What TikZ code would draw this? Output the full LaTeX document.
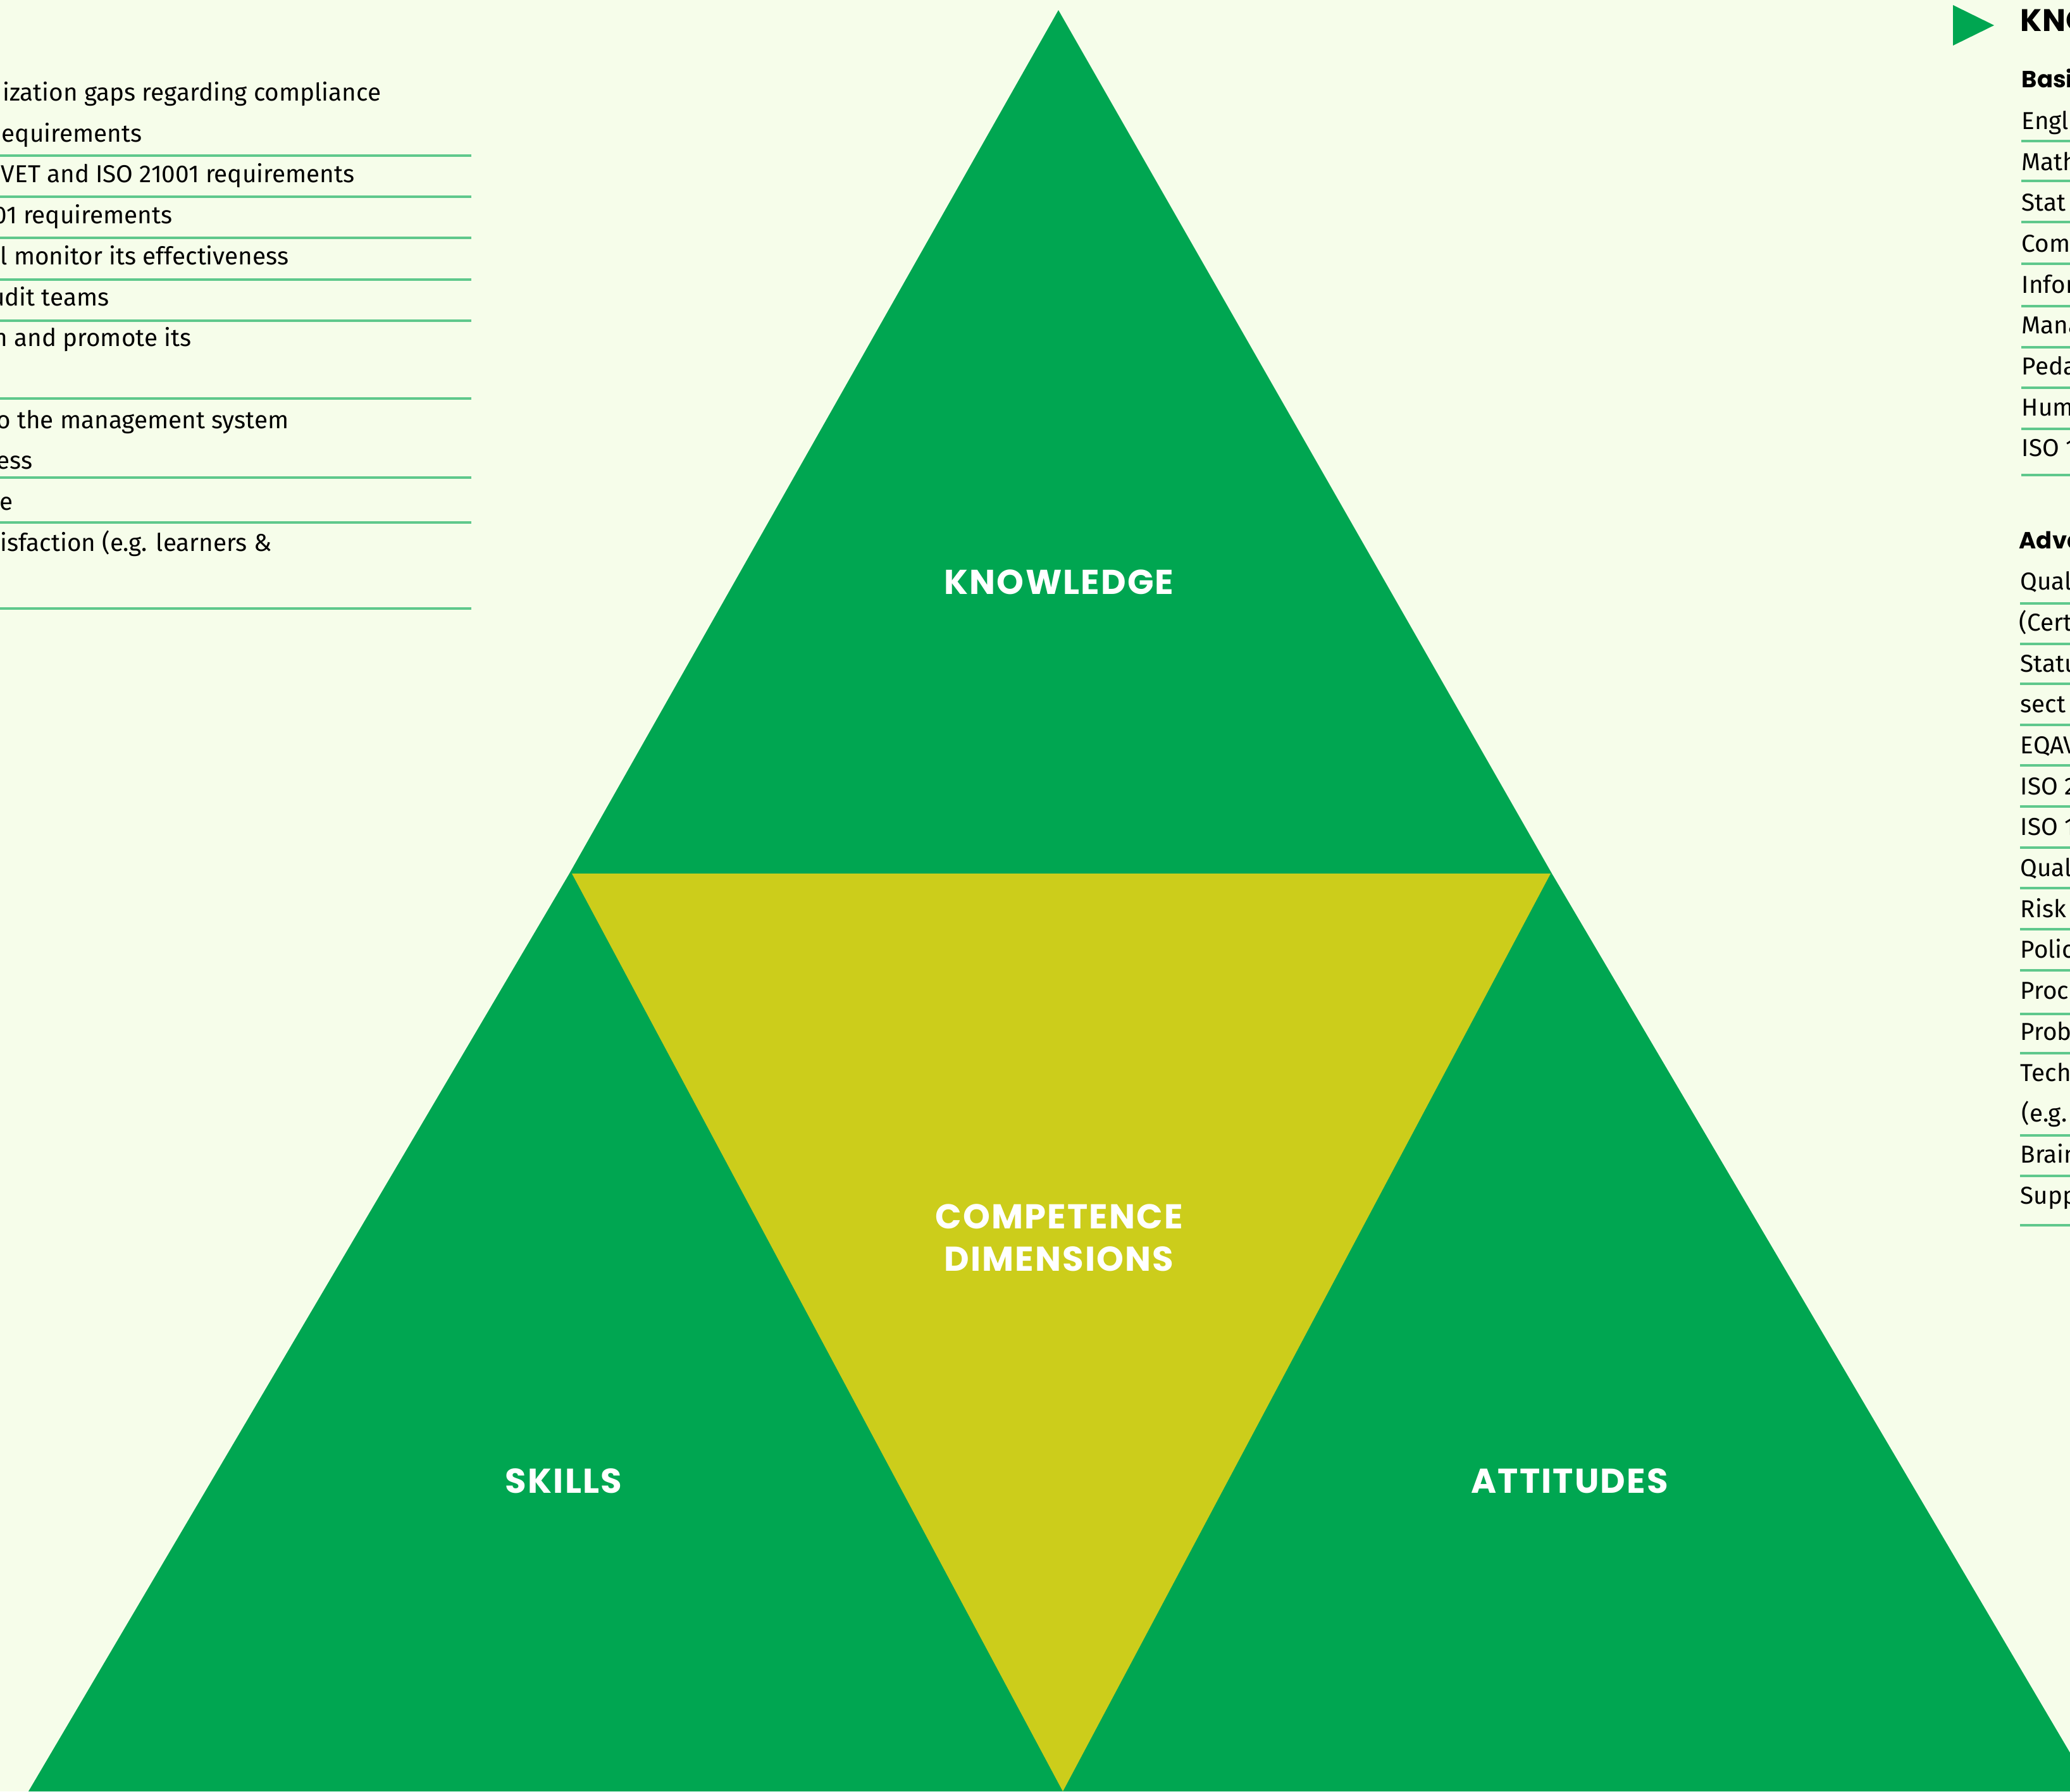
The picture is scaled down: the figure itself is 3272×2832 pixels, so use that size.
\documentclass[tikz,border=0pt]{standalone}
\usepackage{fontspec}
\setmainfont{Fira Sans}
\newfontfamily\headfont{Poppins}[LetterSpace=4]
\newfontfamily\listfont{Poppins}
\usepackage{tikz}
\usepackage{xcolor}
\usetikzlibrary{positioning}
\definecolor{pagebg}{RGB}{246,253,234}
\definecolor{dimgreen}{RGB}{0,166,81}
\definecolor{coreyellow}{RGB}{204,205,27}
\definecolor{rulegreen}{RGB}{95,200,140}

\begin{document}
\begin{tikzpicture}[x=0.01cm, y=-0.01cm,
  dimlabel/.style={text=white, font=\headfont\bfseries\fontsize{15.5}{19}\selectfont, align=center},
  lefttext/.style={anchor=mid east, inner sep=0pt, font=\fontsize{11}{13}\selectfont},
  righttext/.style={anchor=mid west, inner sep=0pt, font=\fontsize{11}{13}\selectfont},
  listhead/.style={anchor=mid west, inner sep=0pt, font=\listfont\bfseries\fontsize{10.5}{12}\selectfont},
  sep/.style={rulegreen, line width=1.2pt}
]
\useasboundingbox (0,0) rectangle (3272,2832);
\clip (0,0) rectangle (3272,2832);
\fill[pagebg] (0,0) rectangle (3272,2832);

% triangles
\fill[dimgreen] (1673,16) -- (2453,1381) -- (3308,2832) -- (45,2832) -- (900,1381) -- cycle;
\fill[coreyellow] (904,1381) -- (2451,1381) -- (1680,2832) -- cycle;

\node[dimlabel] (know) at (1674,920) {KNOWLEDGE};
\node[dimlabel] (core) at (1674,1957) {COMPETENCE\\DIMENSIONS};
\node[dimlabel] (skills) at (891,2341) {SKILLS};
\node[dimlabel] (attit) at (2481,2341) {ATTITUDES};

% left column
\node[lefttext] (l1) at (603,150) {ization gaps regarding compliance};
\node[lefttext] (l2) at (225,215) {equirements};
\node[lefttext] (l3) at (561,279) {VET and ISO 21001 requirements};
\node[lefttext] (l4) at (273,344) {01 requirements};
\node[lefttext] (l5) at (457,409) {l monitor its effectiveness};
\node[lefttext] (l6) at (173,474) {udit teams};
\node[lefttext] (l7) at (303,538) {n and promote its};
\node[lefttext] (l8) at (457,668) {o the management system};
\node[lefttext] (l9) at (52,732) {ess};
\node[lefttext] (l10) at (21,797) {e};
\node[lefttext] (l11) at (430,862) {isfaction (e.g. learners \&};
\draw[sep] (0,246) -- (745,246) (0,311) -- (745,311) (0,376) -- (745,376)
  (0,442) -- (745,442) (0,507) -- (745,507) (0,630) -- (745,630)
  (0,755) -- (745,755) (0,826) -- (745,826) (0,962) -- (745,962);

% right column
\fill[dimgreen] (3087,8) -- (3152,40) -- (3087,72) -- cycle;
\node[listhead, font=\listfont\bfseries\fontsize{14}{16}\selectfont] (khead) at (3193,40) {KNO};
\node[listhead] (basic) at (3195,129) {Basi};
\node[righttext] (r1) at (3195,195) {Engl};
\node[righttext] (r2) at (3195,260) {Math};
\node[righttext] (r3) at (3195,324) {Stat};
\node[righttext] (r4) at (3195,389) {Com};
\node[righttext] (r5) at (3195,454) {Infor};
\node[righttext] (r6) at (3195,518) {Mana};
\node[righttext] (r7) at (3195,583) {Peda};
\node[righttext] (r8) at (3195,648) {Hum};
\node[righttext] (r9) at (3195,712) {ISO 1};
\draw[sep] (3195,223) -- (3272,223) (3195,286) -- (3272,286) (3195,351) -- (3272,351)
  (3195,417) -- (3272,417) (3195,484) -- (3272,484) (3195,549) -- (3272,549)
  (3195,613) -- (3272,613) (3195,678) -- (3272,678) (3195,751) -- (3272,751);

\node[listhead] (adv) at (3191,858) {Adva};
\node[righttext] (a1) at (3193,923) {Qual};
\node[righttext] (a2) at (3191,988) {(Cert};
\node[righttext] (a3) at (3193,1053) {Statu};
\node[righttext] (a4) at (3193,1117) {sect};
\node[righttext] (a5) at (3193,1182) {EQAV};
\node[righttext] (a6) at (3193,1247) {ISO 2};
\node[righttext] (a7) at (3193,1311) {ISO 1};
\node[righttext] (a8) at (3193,1376) {Qual};
\node[righttext] (a9) at (3193,1441) {Risk};
\node[righttext] (a10) at (3193,1505) {Polic};
\node[righttext] (a11) at (3193,1570) {Proc};
\node[righttext] (a12) at (3193,1635) {Prob};
\node[righttext] (a13) at (3193,1700) {Tech};
\node[righttext] (a14) at (3195,1764) {(e.g.};
\node[righttext] (a15) at (3193,1829) {Brain};
\node[righttext] (a16) at (3193,1894) {Supp};
\draw[sep] (3193,954) -- (3272,954) (3193,1018) -- (3272,1018) (3193,1081) -- (3272,1081)
  (3193,1146) -- (3272,1146) (3193,1210) -- (3272,1210) (3193,1275) -- (3272,1275)
  (3193,1340) -- (3272,1340) (3193,1404) -- (3272,1404) (3193,1469) -- (3272,1469)
  (3193,1534) -- (3272,1534) (3193,1603) -- (3272,1603) (3193,1665) -- (3272,1665)
  (3193,1795) -- (3272,1795) (3193,1859) -- (3272,1859) (3193,1937) -- (3272,1937);

\end{tikzpicture}
\end{document}
